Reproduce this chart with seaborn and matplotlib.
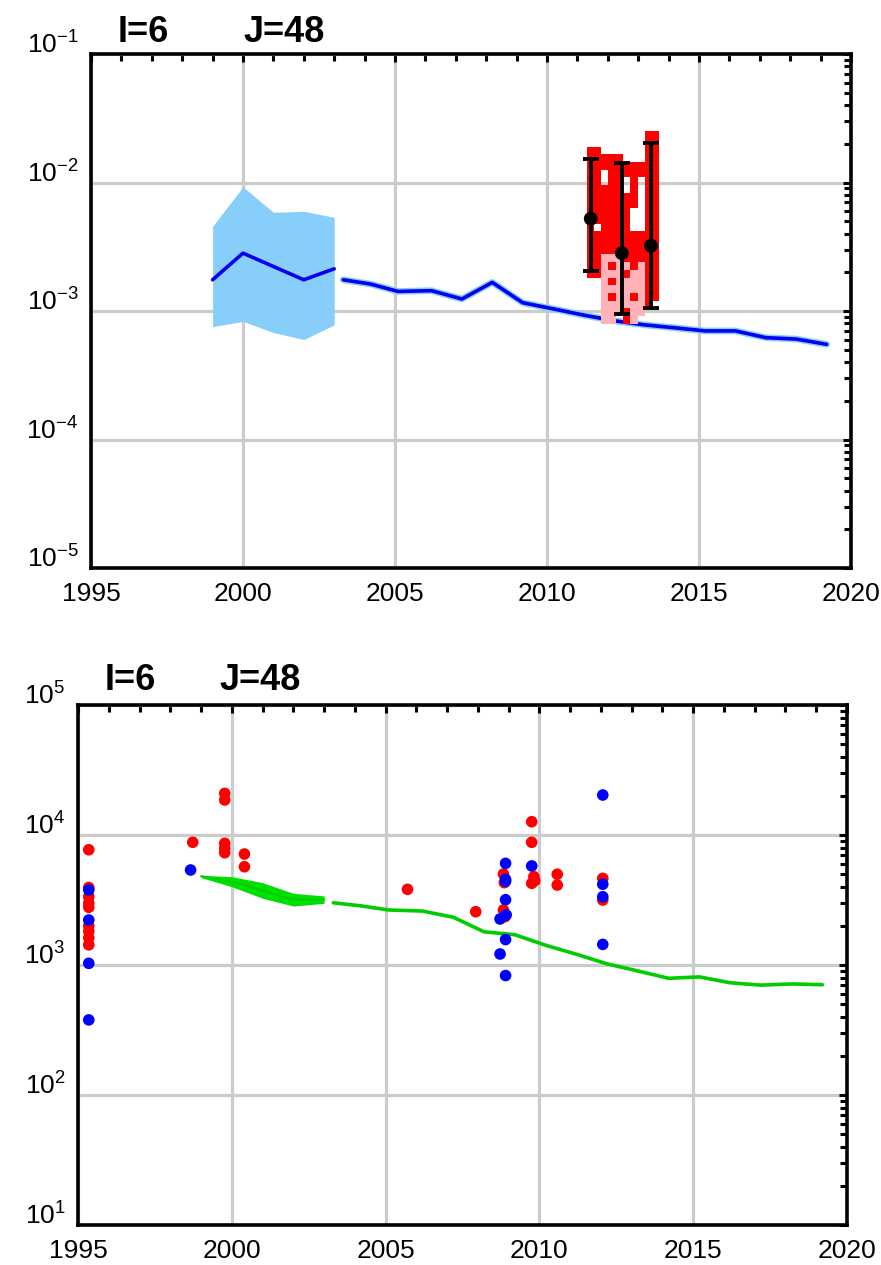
import numpy as np
import matplotlib
matplotlib.use("Agg")
import matplotlib.pyplot as plt
import seaborn as sns
from matplotlib.ticker import FixedLocator, FixedFormatter, LogLocator, MultipleLocator, NullFormatter
from matplotlib.colors import ListedColormap

# ------------------------------------------------------------------ data
title_i = "I=6"
title_j = "J=48"

x_ticks = [1995, 2000, 2005, 2010, 2015, 2020]
x_tick_labels = ["1995", "2000", "2005", "2010", "2015", "2020"]

top_y_ticks = [1e-5, 1e-4, 1e-3, 1e-2, 1e-1]
top_y_tick_labels = [r"$10^{-5}$", r"$10^{-4}$", r"$10^{-3}$", r"$10^{-2}$", r"$10^{-1}$"]
bot_y_ticks = [1e1, 1e2, 1e3, 1e4, 1e5]
bot_y_tick_labels = [r"$10^{1}$", r"$10^{2}$", r"$10^{3}$", r"$10^{4}$", r"$10^{5}$"]

# top panel - early segment with uncertainty band
top_early_years = [1999, 2000, 2001, 2002, 2003]
top_early_mid = [1.75e-3, 2.82e-3, 2.22e-3, 1.75e-3, 2.13e-3]
top_early_low = [7.55e-4, 8.3e-4, 6.8e-4, 6.0e-4, 7.8e-4]
top_early_high = [4.56e-3, 9.25e-3, 5.86e-3, 5.97e-3, 5.36e-3]

# late segment (both panels share years)
late_years = [2003.3, 2004.2, 2005.1, 2006.2, 2007.2, 2008.2, 2009.2, 2010.2,
              2011.2, 2012.2, 2013.2, 2014.2, 2015.2, 2016.2, 2017.2, 2018.2, 2019.2]
top_late = [1.75e-3, 1.62e-3, 1.42e-3, 1.44e-3, 1.24e-3, 1.67e-3, 1.16e-3, 1.04e-3,
            9.3e-4, 8.4e-4, 7.8e-4, 7.4e-4, 7.0e-4, 7.0e-4, 6.2e-4, 6.05e-4, 5.5e-4]

# observations with error bars (top panel)
obs_years = [2011.44, 2012.46, 2013.42]
obs_mid = [5.23e-3, 2.82e-3, 3.22e-3]
obs_low = [2.03e-3, 9.5e-4, 1.05e-3]
obs_high = [1.53e-2, 1.43e-2, 2.02e-2]

# red / pink sample cells (top panel); R = red, P = pink, . = empty
cell_year_edges = [2011.3, 2011.54, 2011.78, 2012.02, 2012.26, 2012.5,
                   2012.74, 2012.98, 2013.22, 2013.46, 2013.7]
cell_log_top = -1.60
cell_log_step = 0.06
cell_rows = [
    "........RR",
    "........RR",
    "RR......RR",
    "RRRRR...RR",
    "RRRRRRRRRR",
    "RR.RRRRRRR",
    "RR.RR.R.RR",
    "RRRRR.R.RR",
    "RRRRRRR.RR",
    "RRRRRRR.RR",
    "RRRRRR..RR",
    "RRRRRR..RR",
    "R.RRRR..RR",
    "RRRRRRRRRR",
    "RRRRRRRRRR",
    "RRRRRRRRRR",
    "RRPPPRRRRR",
    "RRPRPPRPRR",
    "RRPPPRPPRR",
    "..PRPPPPRR",
    "..PPPPPPRR",
    "..PRPPRPRR",
    "..PPPPPPR.",
    "..PPPRPP..",
    "..PP.RP...",
]

# bottom panel - early segment with band
bot_early_years = [1999, 2000, 2001, 2002, 2003]
bot_early_mid = [4820, 4370, 3740, 3180, 3190]
bot_early_low = [4700, 4000, 3260, 2840, 2980]
bot_early_high = [4900, 4780, 4300, 3560, 3400]

bot_late = [3010, 2850, 2650, 2600, 2330, 1800, 1710, 1420,
            1210, 1020, 900, 790, 810, 730, 700, 715, 705]

red_x = [1995.35, 1995.35, 1995.35, 1995.35, 1995.35, 1995.35, 1995.35, 1995.35, 1995.35,
         1998.73, 1999.77, 1999.77, 1999.77, 1999.77, 1999.77, 2000.41, 2000.41,
         2005.71, 2007.93,
         2008.83, 2008.86, 2008.83, 2008.88,
         2009.75, 2009.75, 2009.82, 2009.85, 2009.75,
         2010.58, 2010.58, 2012.06, 2012.06]
red_y = [7700, 3950, 3350, 3000, 2780, 2000, 1820, 1620, 1430,
         8790, 20900, 18600, 8630, 7900, 7310, 7140, 5700,
         3820, 2570,
         5010, 4300, 2650, 2350,
         12650, 8790, 4780, 4450, 4250,
         4990, 4120, 4640, 3160]

blue_x = [1995.35, 1995.35, 1995.35, 1995.35,
          1998.66,
          2008.9, 2008.9, 2008.9, 2008.9, 2008.92, 2008.72, 2008.9, 2008.72, 2008.9,
          2009.75,
          2012.06, 2012.06, 2012.06, 2012.06]
blue_y = [3780, 2220, 1030, 378,
          5380,
          6050, 4560, 4400, 3180, 2430, 2260, 1570, 1215, 830,
          5780,
          20300, 4180, 3350, 1440]

# ------------------------------------------------------------------ style
sns.set_theme(style="white")
plt.rcParams["font.family"] = ["Liberation Sans", "DejaVu Sans"]
plt.rcParams["mathtext.fontset"] = "custom"
plt.rcParams["mathtext.rm"] = "Liberation Sans"
plt.rcParams["mathtext.it"] = "Liberation Sans:italic"
plt.rcParams["mathtext.bf"] = "Liberation Sans:bold"
plt.rcParams["text.color"] = "black"
plt.rcParams["xtick.labelcolor"] = "black"
plt.rcParams["ytick.labelcolor"] = "black"

fig = plt.figure(figsize=(8.81, 12.65), dpi=100)
ax1 = fig.add_axes([91 / 881, 1 - 568 / 1265, 760 / 881, 514 / 1265])
ax2 = fig.add_axes([78 / 881, 1 - 1225 / 1265, 769 / 881, 520 / 1265])


def style_axes(ax, yticks, ylabels):
    ax.set_yscale("log")
    ax.set_xlim(x_ticks[0], x_ticks[-1])
    ax.set_ylim(yticks[0], yticks[-1])
    ax.xaxis.set_major_locator(FixedLocator(x_ticks))
    ax.xaxis.set_major_formatter(FixedFormatter(x_tick_labels))
    ax.xaxis.set_minor_locator(MultipleLocator(1))
    ax.yaxis.set_major_locator(FixedLocator(yticks))
    ax.yaxis.set_major_formatter(FixedFormatter(ylabels))
    ax.yaxis.set_minor_locator(LogLocator(base=10, subs=np.arange(2, 10)))
    ax.yaxis.set_minor_formatter(NullFormatter())
    ax.grid(True, which="major", color="#cccccc", lw=2.3)
    ax.set_axisbelow(True)
    ax.tick_params(which="both", direction="in", top=True, right=True,
                   color="black", width=2.2, labelcolor="black")
    ax.tick_params(which="major", length=6)
    ax.tick_params(which="minor", length=5)
    ax.tick_params(axis="x", which="major", labelsize=19, pad=10)
    ax.tick_params(axis="y", which="major", labelsize=19, pad=9)
    for lab in ax.get_yticklabels():
        lab.set_verticalalignment("baseline")
    for sp in ax.spines.values():
        sp.set_color("black")
        sp.set_linewidth(2.6)
    ax.set_xlabel("")
    ax.set_ylabel("")


# ------------------------------------------------------------------ top panel
ax1.fill_between(top_early_years, top_early_low, top_early_high,
                 color="#87CEFA", lw=0, zorder=2)
sns.lineplot(x=top_early_years, y=top_early_mid, ax=ax1, color="#0000EE",
             lw=2.6, sort=False, estimator=None, zorder=3)
sns.lineplot(x=late_years, y=top_late, ax=ax1, color="#87CEFA",
             lw=4.8, sort=False, estimator=None, zorder=2)
sns.lineplot(x=late_years, y=top_late, ax=ax1, color="#0000EE",
             lw=2.6, sort=False, estimator=None, zorder=3)

code_map = {".": 0, "R": 1, "P": 2}
codes = np.array([[code_map[c] for c in row] for row in cell_rows], dtype=float)
codes = np.ma.masked_equal(codes, 0)
n_rows = len(cell_rows)
log_edges = cell_log_top - cell_log_step * np.arange(n_rows + 1)
val_edges = 10.0 ** log_edges
cmap = ListedColormap(["#FF0000", "#FFB3B8"])
ax1.pcolormesh(cell_year_edges, val_edges, codes, cmap=cmap, vmin=0.5, vmax=2.5,
               shading="flat", zorder=4)

obs_mid_a = np.array(obs_mid)
yerr = [obs_mid_a - np.array(obs_low), np.array(obs_high) - obs_mid_a]
ax1.errorbar(obs_years, obs_mid, yerr=yerr, fmt="none", ecolor="black",
             elinewidth=2.8, capsize=6, capthick=2.8, zorder=5)
sns.scatterplot(x=obs_years, y=obs_mid, ax=ax1, color="black", s=100,
                edgecolor="none", zorder=6)

style_axes(ax1, top_y_ticks, top_y_tick_labels)

# ------------------------------------------------------------------ bottom panel
ax2.fill_between(bot_early_years, bot_early_low, bot_early_high,
                 color="#00E000", lw=0, zorder=2)
sns.lineplot(x=bot_early_years, y=bot_early_mid, ax=ax2, color="#00D000",
             lw=1.5, sort=False, estimator=None, zorder=3)
sns.lineplot(x=late_years, y=bot_late, ax=ax2, color="#00CC00",
             lw=2.6, sort=False, estimator=None, zorder=3)
sns.scatterplot(x=red_x, y=red_y, ax=ax2, color="#FF0000", s=70,
                edgecolor="none", zorder=4)
sns.scatterplot(x=blue_x, y=blue_y, ax=ax2, color="#0000FF", s=70,
                edgecolor="none", zorder=5)

style_axes(ax2, bot_y_ticks, bot_y_tick_labels)

# ------------------------------------------------------------------ titles
for (xi, xj, yb) in [(118, 243, 42), (105, 220, 690)]:
    fig.text(xi / 881, 1 - yb / 1265, title_i, fontsize=26, fontweight="bold",
             va="baseline", ha="left", color="black")
    fig.text(xj / 881, 1 - yb / 1265, title_j, fontsize=26, fontweight="bold",
             va="baseline", ha="left", color="black")

fig.savefig("out.png", dpi=100)
